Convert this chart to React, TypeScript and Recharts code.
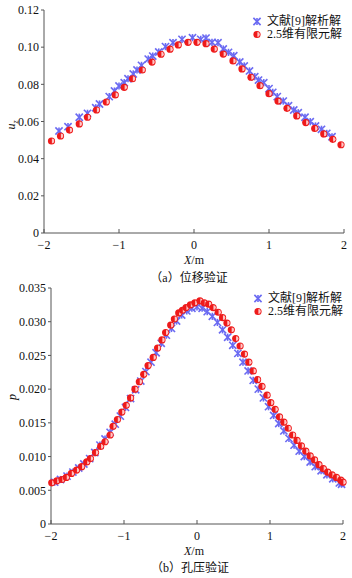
import { ScatterChart, Scatter, XAxis, YAxis } from "recharts";

// (a) displacement u_z vs X
const topBlueX = [-1.8, -1.68, -1.53, -1.42, -1.31, -1.26, -1.13, -1.06, -1.0, -0.93, -0.88, -0.81, -0.76, -0.7, -0.61, -0.55, -0.47, -0.38, -0.28, -0.16, -0.02, 0.09, 0.16, 0.24, 0.32, 0.39, 0.46, 0.53, 0.61, 0.67, 0.74, 0.81, 0.86, 0.93, 1.0, 1.05, 1.11, 1.19, 1.26, 1.33, 1.39, 1.48, 1.55, 1.62, 1.7, 1.77, 1.84];
const topBlueY = [0.0549, 0.0572, 0.0623, 0.0644, 0.0674, 0.0694, 0.0734, 0.0764, 0.0791, 0.0809, 0.083, 0.0856, 0.0877, 0.0902, 0.0936, 0.0952, 0.0974, 0.1003, 0.1024, 0.1042, 0.1051, 0.1042, 0.1049, 0.1026, 0.1024, 0.099, 0.0972, 0.0954, 0.092, 0.0899, 0.0872, 0.0841, 0.0823, 0.0809, 0.0777, 0.0757, 0.0734, 0.071, 0.0685, 0.0662, 0.0647, 0.0623, 0.0599, 0.0576, 0.0558, 0.0536, 0.0518];
const topRedX = [-1.9, -1.78, -1.66, -1.53, -1.42, -1.3, -1.17, -1.05, -0.93, -0.82, -0.69, -0.56, -0.44, -0.32, -0.21, -0.08, 0.04, 0.16, 0.27, 0.39, 0.52, 0.64, 0.76, 0.88, 1.0, 1.12, 1.24, 1.37, 1.49, 1.61, 1.73, 1.85, 1.96];
const topRedY = [0.0495, 0.0522, 0.0554, 0.0587, 0.0623, 0.0662, 0.0705, 0.0743, 0.0784, 0.083, 0.0877, 0.092, 0.0962, 0.0989, 0.1012, 0.1026, 0.1026, 0.1019, 0.099, 0.0963, 0.0926, 0.0883, 0.0838, 0.0793, 0.075, 0.071, 0.0671, 0.063, 0.0594, 0.0563, 0.0533, 0.0504, 0.0475];

// (b) pore pressure p vs X
const botBlueX = [-1.95, -1.87, -1.78, -1.7, -1.62, -1.55, -1.47, -1.4, -1.33, -1.26, -1.19, -1.12, -1.05, -0.98, -0.91, -0.84, -0.77, -0.7, -0.63, -0.56, -0.49, -0.42, -0.35, -0.28, -0.21, -0.14, -0.07, 0.0, 0.07, 0.14, 0.21, 0.28, 0.35, 0.42, 0.49, 0.56, 0.63, 0.7, 0.77, 0.84, 0.91, 0.98, 1.05, 1.12, 1.19, 1.26, 1.33, 1.4, 1.47, 1.55, 1.62, 1.7, 1.78, 1.86, 1.95, 1.98];
const botBlueY = [0.0062, 0.0066, 0.0071, 0.0077, 0.0083, 0.0089, 0.0097, 0.0106, 0.0117, 0.0126, 0.0136, 0.0148, 0.016, 0.0173, 0.0186, 0.0199, 0.0212, 0.0226, 0.024, 0.0254, 0.0268, 0.028, 0.029, 0.0301, 0.031, 0.0316, 0.032, 0.0322, 0.032, 0.0315, 0.0308, 0.0299, 0.0288, 0.0277, 0.0265, 0.0253, 0.024, 0.0227, 0.0213, 0.02, 0.0187, 0.0174, 0.0161, 0.0149, 0.0138, 0.0127, 0.0117, 0.0108, 0.01, 0.0092, 0.0085, 0.0079, 0.0073, 0.0067, 0.0061, 0.0059];
const botRedX = [-1.99, -1.92, -1.85, -1.79, -1.72, -1.65, -1.58, -1.51, -1.46, -1.39, -1.32, -1.26, -1.19, -1.15, -1.09, -1.03, -0.97, -0.91, -0.85, -0.79, -0.73, -0.67, -0.6, -0.54, -0.48, -0.43, -0.36, -0.31, -0.25, -0.2, -0.15, -0.09, -0.03, 0.04, 0.1, 0.16, 0.22, 0.29, 0.35, 0.41, 0.47, 0.53, 0.59, 0.65, 0.71, 0.77, 0.83, 0.89, 0.96, 1.01, 1.07, 1.13, 1.19, 1.25, 1.31, 1.37, 1.43, 1.49, 1.55, 1.61, 1.67, 1.73, 1.79, 1.85, 1.91, 1.97, 2.0];
const botRedY = [0.0061, 0.0064, 0.0066, 0.0069, 0.0075, 0.008, 0.0085, 0.0092, 0.0097, 0.0106, 0.0115, 0.0122, 0.0132, 0.0145, 0.0155, 0.0166, 0.0176, 0.0187, 0.02, 0.0211, 0.0222, 0.0235, 0.0247, 0.0261, 0.0273, 0.0284, 0.0295, 0.0304, 0.0313, 0.0317, 0.0321, 0.0325, 0.0328, 0.0331, 0.0328, 0.0326, 0.0321, 0.0314, 0.0306, 0.0298, 0.0288, 0.0275, 0.0264, 0.0252, 0.024, 0.0227, 0.0214, 0.0204, 0.0191, 0.018, 0.017, 0.0159, 0.0151, 0.0142, 0.0132, 0.0124, 0.0116, 0.0108, 0.0101, 0.0095, 0.0088, 0.0082, 0.0077, 0.0073, 0.0069, 0.0065, 0.0062];

const xTicks = [-2, -1, 0, 1, 2];
const topYTicks = [0, 0.02, 0.04, 0.06, 0.08, 0.1, 0.12];
const botYTicks = [0, 0.005, 0.01, 0.015, 0.02, 0.025, 0.03, 0.035];
const legendNames = ["文献[9]解析解", "2.5维有限元解"];

const zip = (xs: number[], ys: number[]) => xs.map((x, i) => ({ x, y: ys[i] }));

const FONT = "'Liberation Serif', 'Noto Sans CJK SC', serif";
const AXIS = "#555";
const BLUE = "#6a6af2";
const RED = "#ee1a1a";

function Star({ cx, cy }: any) {
  const r = 3.6;
  return (
    <g stroke={BLUE} strokeWidth={1.6}>
      <line x1={cx - r} y1={cy - r} x2={cx + r} y2={cy + r} />
      <line x1={cx - r} y1={cy + r} x2={cx + r} y2={cy - r} />
      <line x1={cx} y1={cy - r} x2={cx} y2={cy + r} />
    </g>
  );
}

function Dot({ cx, cy }: any) {
  const r = 3.6;
  return (
    <g>
      <circle cx={cx} cy={cy} r={r} fill={RED} />
      <path d={`M${cx + 0.4},${cy - 2.4} A2.4,2.4 0 0 1 ${cx + 0.4},${cy + 2.4} Z`} fill="#ffc4c4" />
    </g>
  );
}

function XTick({ x, y, payload }: any) {
  const v = payload.value;
  const label = v < 0 ? "\u2212" + Math.abs(v) : String(v);
  return (
    <g>
      <line x1={x} y1={y} x2={x} y2={y - 4} stroke={AXIS} />
      <text x={x} y={y + 16} textAnchor="middle" fontSize={12} fontFamily={FONT} fill="#111">
        {label}
      </text>
    </g>
  );
}

function Legend({ left, top }: { left: number; top: number }) {
  return (
    <div style={{ position: "absolute", left, top, fontFamily: FONT, fontSize: 12, lineHeight: "13px", color: "#111" }}>
      {legendNames.map((n, i) => (
        <div key={n} style={{ display: "flex", alignItems: "center", height: 13 }}>
          <svg width={12} height={13} style={{ marginRight: 3 }}>
            {i === 0 ? <Star cx={5} cy={6.5} /> : <Dot cx={5} cy={6.5} />}
          </svg>
          <span>{n}</span>
        </div>
      ))}
    </div>
  );
}

function Label({ left, top, children, italic }: any) {
  return (
    <div
      style={{
        position: "absolute",
        left,
        top,
        transform: "translate(-50%, -50%)",
        fontFamily: FONT,
        fontSize: 12,
        whiteSpace: "nowrap",
        fontStyle: italic ? "italic" : "normal",
        color: "#111",
      }}
    >
      {children}
    </div>
  );
}

export default function App() {
  return (
    <div style={{ position: "absolute", left: 0, top: 0, width: 352, height: 578, background: "#fff" }}>
      <div style={{ position: "absolute", left: 0, top: 0 }}>
        <ScatterChart width={352} height={290} margin={{ top: 10, right: 8, bottom: 27, left: 0 }}>
          <XAxis type="number" dataKey="x" domain={[-2, 2]} ticks={xTicks} height={30} stroke={AXIS} tickLine={false} tickSize={0} tickMargin={0} tick={<XTick />} />
          <YAxis type="number" dataKey="y" domain={[0, 0.12]} ticks={topYTicks} width={44} stroke={AXIS} tickSize={3} tickMargin={2}
            tick={{ fontSize: 12, fontFamily: FONT, fill: "#111" }} tickFormatter={(v: number) => (v === 0 ? "0" : v.toFixed(2))} />
          <Scatter data={zip(topBlueX, topBlueY)} shape={<Star />} isAnimationActive={false} />
          <Scatter data={zip(topRedX, topRedY)} shape={<Dot />} isAnimationActive={false} />
        </ScatterChart>
      </div>
      <div style={{ position: "absolute", left: 0, top: 278 }}>
        <ScatterChart width={352} height={276} margin={{ top: 10, right: 9, bottom: 0, left: 0 }}>
          <XAxis type="number" dataKey="x" domain={[-2, 2]} ticks={xTicks} height={30} stroke={AXIS} tickLine={false} tickSize={0} tickMargin={0} tick={<XTick />} />
          <YAxis type="number" dataKey="y" domain={[0, 0.035]} ticks={botYTicks} width={51} stroke={AXIS} tickSize={3} tickMargin={2}
            tick={{ fontSize: 12, fontFamily: FONT, fill: "#111" }} tickFormatter={(v: number) => (v === 0 ? "0" : v.toFixed(3))} />
          <Scatter data={zip(botBlueX, botBlueY)} shape={<Star />} isAnimationActive={false} />
          <Scatter data={zip(botRedX, botRedY)} shape={<Dot />} isAnimationActive={false} />
        </ScatterChart>
      </div>

      <Legend left={252} top={15} />
      <Legend left={253} top={292} />

      <Label left={12} top={125} italic>
        <span style={{ display: "inline-block", transform: "rotate(-90deg)" }}>
          u<sub style={{ fontSize: 8 }}>z</sub>
        </span>
      </Label>
      <Label left={12} top={397} italic>
        <span style={{ display: "inline-block", transform: "rotate(-90deg)" }}>p</span>
      </Label>

      <Label left={194} top={260}>
        <i>X</i>/m
      </Label>
      <Label left={189} top={277}>（a）位移验证</Label>
      <Label left={194} top={551}>
        <i>X</i>/m
      </Label>
      <Label left={190} top={567}>（b）孔压验证</Label>
    </div>
  );
}
